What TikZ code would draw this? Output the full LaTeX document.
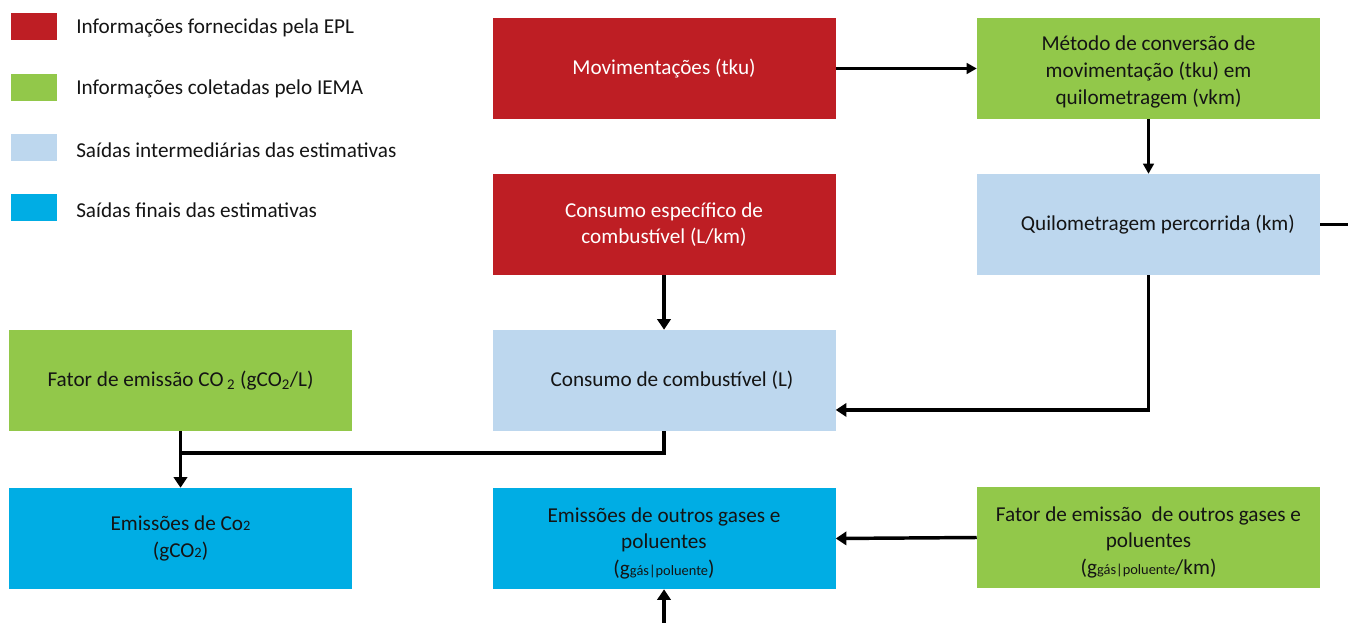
\documentclass[tikz,border=0pt]{standalone}
\usepackage{fontspec}
\setmainfont{Carlito}
\usetikzlibrary{arrows.meta,calc}
\definecolor{cred}{RGB}{190,30,36}
\definecolor{cgreen}{RGB}{146,200,74}
\definecolor{clight}{RGB}{189,215,238}
\definecolor{cblue}{RGB}{0,173,228}
\definecolor{ctext}{RGB}{20,20,20}
\newcommand{\sbs}[1]{{\fontsize{10.8}{12}\selectfont #1}}
\begin{document}
\begin{tikzpicture}[x=0.75pt,y=-0.75pt,
  every node/.style={font=\fontsize{15.9}{20}\selectfont},
  boxst/.style={rectangle, minimum width=257.25pt, minimum height=75.75pt, inner sep=0pt, align=center, text=ctext},
  redbox/.style={boxst, fill=cred, text=white},
  greenbox/.style={boxst, fill=cgreen},
  lightbox/.style={boxst, fill=clight},
  bluebox/.style={boxst, fill=cblue},
  legsq/.style={rectangle, minimum width=34.5pt, minimum height=20.25pt, inner sep=0pt},
  legtxt/.style={anchor=west, inner sep=0pt, text=ctext},
  conn/.style={line width=2.6pt, draw=black},
  arr/.style={conn, -{Triangle[width=10pt,length=8pt]}},
  arrthin/.style={line width=1.7pt, -{Triangle[width=8pt,length=7.5pt]}}
]
\useasboundingbox (0,0) rectangle (1348,623);
% legend
\node[legsq, fill=cred] (l1) at (34,26.5) {};
\node[legsq, fill=cgreen] (l2) at (34,87.5) {};
\node[legsq, fill=clight] (l3) at (34,147.5) {};
\node[legsq, fill=cblue] (l4) at (34,207.5) {};
\node[legtxt] (t1) at (76,28) {Informações fornecidas pela EPL};
\node[legtxt] (t2) at (76,89) {Informações coletadas pelo IEMA};
\node[legtxt] (t3) at (76,150) {Saídas intermediárias das estimativas};
\node[legtxt] (t4) at (76,210) {Saídas finais das estimativas};
% boxes
\node[redbox] (mov) at (664,68.5) {Movimentações (tku)};
\node[greenbox] (met) at (1148.5,68.5) {\rule{0pt}{16pt}Método de conversão de\\movimentação (tku) em\\quilometragem (vkm)};
\node[redbox] (cesp) at (664,224.5) {Consumo específico de\\combustível (L/km)};
\node[lightbox] (quil) at (1148.5,224.5) {\hspace{14pt}Quilometragem percorrida (km)};
\node[greenbox] (fco2) at (180.5,380.5) {Fator de emissão CO\,\textsubscript{2} (gCO\textsubscript{2}/L)};
\node[lightbox] (ccomb) at (664,380.5) {\hspace{12pt}Consumo de combustível (L)};
\node[bluebox] (eco2) at (180.5,538.5) {Emissões de Co\sbs{2}\\(gCO\sbs{2})};
\node[bluebox] (eout) at (664,538.5) {\rule{0pt}{18pt}Emissões de outros gases e\\poluentes\\(g\sbs{gás|poluente})};
\node[greenbox] (fout) at (1148.5,537.5) {\rule{0pt}{18pt}Fator de emissão\ \ de outros gases e\\poluentes\\(g\sbs{gás|poluente}/km)};
% connectors
\coordinate (qend) at (1348,224.5);
\coordinate (junc) at (180.5,453);
\coordinate (bot) at (664,623);
\draw[arrthin] (mov.east) -- (met.west);
\draw[arrthin] (met.south) -- (quil.north);
\draw[conn] (quil.east) -- (qend);
\draw[arr] (quil.south) |- ([yshift=-22.1pt]ccomb.east);
\draw[arr] (cesp.south) -- (ccomb.north);
\draw[conn] (ccomb.south) |- (junc);
\draw[arr] (fco2.south) -- (eco2.north);
\draw[arr] (fout.west) -- (eout.east);
\draw[arr] (bot) -- (eout.south);
\end{tikzpicture}
\end{document}
